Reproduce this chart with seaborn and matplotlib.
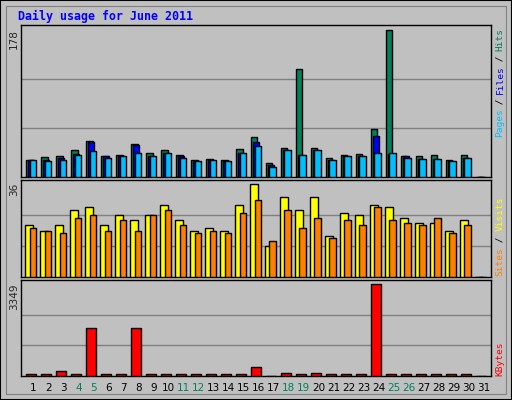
import numpy as np
import pandas as pd
import matplotlib
matplotlib.use("Agg")
import matplotlib.pyplot as plt
from matplotlib.patches import Rectangle
import seaborn as sns

# ---- data ----
days = list(range(1, 32))
hits = [21, 24, 26, 33, 44, 26, 27, 40, 29, 33, 27, 21, 22, 20, 34, 49, 17, 35, 131, 35,
        23, 27, 28, 58, 178, 26, 26, 27, 20, 27, 0]
files = [21, 20, 23, 28, 42, 25, 25, 39, 25, 29, 25, 19, 20, 19, 29, 42, 15, 33, 27, 33,
         21, 26, 25, 50, 28, 25, 22, 22, 19, 23, 0]
pages = [21, 19, 21, 27, 31, 23, 25, 29, 25, 29, 23, 19, 20, 19, 29, 38, 12, 33, 27, 33,
         21, 26, 25, 29, 29, 23, 22, 22, 19, 23, 0]
visits = [20, 18, 20, 26, 27, 20, 24, 22, 24, 28, 22, 18, 19, 18, 28, 36, 12, 31, 26, 31,
          16, 25, 24, 28, 27, 23, 21, 21, 18, 22, 0]
sites = [19, 18, 17, 23, 24, 18, 22, 18, 24, 26, 20, 17, 18, 17, 25, 30, 14, 26, 19, 23,
         15, 22, 20, 27, 22, 21, 20, 23, 17, 20, 0]
kbytes = [85, 85, 195, 85, 1736, 85, 85, 1736, 85, 85, 85, 85, 85, 85, 85, 342, 15, 122, 85, 122,
          85, 85, 85, 3349, 85, 85, 85, 85, 85, 85, 0]
weekend = [4, 5, 11, 12, 18, 19, 25, 26]

BG = "#C0C0C0"
C_HITS, C_FILES, C_PAGES = "#00805C", "#0000FF", "#00BFFF"
C_VISITS, C_SITES, C_KB = "#FFFF00", "#FF8000", "#FF0000"
GREEN = "#00805C"

sns.set_style("white")
plt.rcParams["font.family"] = ["DejaVu Sans"]

W, H = 512, 400
fig = plt.figure(figsize=(W / 100, H / 100), dpi=100, facecolor=BG)
fig.patches.append(Rectangle((0, 0), 1, 1, transform=fig.transFigure, fill=False,
                             edgecolor="black", linewidth=1.5))
fig.patches.append(Rectangle((6 / W, 6 / H), 1 - 12 / W, 1 - 12 / H, transform=fig.transFigure,
                             fill=False, edgecolor="#808080", linewidth=0.8))


def make_axes(top, bottom):
    ax = fig.add_axes([21 / W, 1 - bottom / H, 470 / W, (bottom - top) / H])
    ax.set_facecolor(BG)
    for s in ax.spines.values():
        s.set_color("black")
        s.set_linewidth(1)
    ax.set_yticks([])
    return ax


def bars(ax, vals, offset, width, color):
    df = pd.DataFrame({"x": np.array(days) + offset, "y": vals})
    sns.barplot(data=df, x="x", y="y", native_scale=True, width=width, color=color,
                edgecolor="black", linewidth=1, saturation=1, ax=ax, zorder=3)


def grid(ax, levels):
    for v in levels:
        ax.axhline(v, color="#808080", linewidth=1, zorder=1)


# top panel: hits / files / pages
ax1 = make_axes(25, 177)
grid(ax1, [178 / 3, 178 * 2 / 3])
bars(ax1, hits, -0.30, 0.46, C_HITS)
bars(ax1, files, -0.17, 0.46, C_FILES)
bars(ax1, pages, -0.04, 0.46, C_PAGES)
ax1.set_ylim(0, 184)

# middle panel: visits / sites
ax2 = make_axes(180, 277)
grid(ax2, [12, 24])
bars(ax2, visits, -0.30, 0.52, C_VISITS)
bars(ax2, sites, -0.04, 0.46, C_SITES)
ax2.set_ylim(0, 37.6)

# bottom panel: kbytes
ax3 = make_axes(280, 376)
grid(ax3, [3349 / 3, 3349 * 2 / 3])
bars(ax3, kbytes, -0.17, 0.68, C_KB)
ax3.set_ylim(0, 3506)
for ax in (ax1, ax2, ax3):
    ax.set_xlim(0.16, 31.5)
    ax.set_xticks([])
    ax.set_yticks([])
    ax.set_xlabel("")
    ax.set_ylabel("")


def ftext(x, y, s, **kw):
    fig.text(x / W, 1 - y / H, s, **kw)


mono = "DejaVu Sans Mono"
ftext(18, 16, "Daily usage for June 2011", color="#0000FF", fontsize=8.4,
      fontweight="bold", family=mono, va="center")

# max values on the left
ftext(14, 29, "178", rotation=90, fontsize=7.5, ha="center", va="top")
ftext(14, 183, "36", rotation=90, fontsize=7.5, ha="center", va="top")
ftext(14, 283, "3349", rotation=90, fontsize=7.5, ha="center", va="top")


def side_label(y_bottom, parts, step=5.4):
    y = y_bottom
    for s, c in parts:
        ftext(500, y, s, rotation=90, color=c, family=mono, fontsize=6.8,
              ha="center", va="bottom")
        y -= step * len(s)


side_label(137, [("Pages", C_PAGES), (" / ", "black"), ("Files", C_FILES),
                 (" / ", "black"), ("Hits", C_HITS)])
side_label(276, [("Sites", C_SITES), (" / ", "black"), ("Visits", C_VISITS)], step=5.6)
side_label(376, [("KBytes", C_KB)], step=5.8)

# day labels
for d in days:
    xpx = 21 + (d - 0.16) / (31.5 - 0.16) * 470
    ftext(xpx, 388, str(d), fontsize=7.5, ha="center", va="center",
          color=GREEN if d in weekend else "black")

fig.savefig("out.png", dpi=100, facecolor=BG)
